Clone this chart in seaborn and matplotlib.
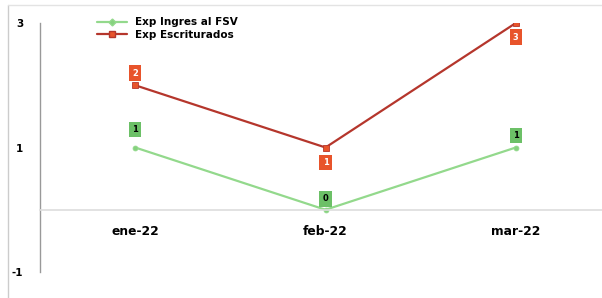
import pandas as pd
import matplotlib
matplotlib.use("Agg")
import matplotlib.pyplot as plt
from matplotlib.lines import Line2D
import seaborn as sns

meses = ["ene-22", "feb-22", "mar-22"]
exp_fsv = [1, 0, 1]
exp_escriturados = [2, 1, 3]
series = ["Exp Ingres al FSV", "Exp Escriturados"]

df = pd.DataFrame({
    "mes": meses * 2,
    "valor": exp_fsv + exp_escriturados,
    "serie": [series[0]] * 3 + [series[1]] * 3,
})
df["x"] = df["mes"].map({m: i for i, m in enumerate(meses)})

sns.set_style("white")
plt.rcParams["font.family"] = ["DejaVu Sans"]
plt.rcParams["font.weight"] = "bold"

line_col = {series[0]: "#93d98c", series[1]: "#b5362c"}
mark_col = {series[0]: "#86d27f", series[1]: "#e8542b"}
box_col = {series[0]: "#6cc067", series[1]: "#e8542b"}
txt_col = {series[0]: "black", series[1]: "white"}

fig = plt.figure(figsize=(6.02, 2.98), dpi=100)
ax = fig.add_axes([40 / 602, 26 / 298, 571 / 602, 249 / 298])

sns.lineplot(data=df, x="x", y="valor", hue="serie", palette=line_col,
             linewidth=1.6, legend=False, ax=ax)
for s, m, ms in [(series[0], "o", 3.5), (series[1], "s", 4.5)]:
    sub = df[df["serie"] == s]
    ax.plot(sub["x"], sub["valor"], linestyle="none", marker=m, markersize=ms,
            color=mark_col[s], markeredgecolor=line_col[s], markeredgewidth=0.6)

# etiquetas de datos
offsets = {series[0]: [18, 11, 12], series[1]: [12, -15, -14]}
for s, vals in [(series[0], exp_fsv), (series[1], exp_escriturados)]:
    for i, v in enumerate(vals):
        ax.annotate(str(v), (i, v), xytext=(0, offsets[s][i]), textcoords="offset pixels",
                    ha="center", va="center", fontsize=6, fontweight="bold",
                    color=txt_col[s],
                    bbox=dict(boxstyle="square,pad=0.4", fc=box_col[s], ec="none"))

ax.set_xlim(-0.5, 2.5)
ax.set_ylim(-1, 3)
ax.set_xlabel("")
ax.set_ylabel("")

ax.set_xticks([0.5, 1.5], minor=True)
ax.tick_params(axis="x", which="major", length=0, pad=11, labelsize=8.8, labelcolor="black")
ax.tick_params(axis="x", which="minor", length=3, color="#cccccc")
ax.tick_params(axis="y", length=3, color="#bbbbbb", pad=9, labelsize=7.5, labelcolor="black")
ax.set_yticks([-1, 1, 3])
ax.set_yticklabels(["-1", "1", "3"])
ax.set_xticks(range(len(meses)))
ax.set_xticklabels(meses)

for sp in ["top", "right"]:
    ax.spines[sp].set_visible(False)
ax.spines["left"].set_color("#999999")
ax.spines["left"].set_linewidth(1.0)
ax.spines["bottom"].set_position(("data", 0))
ax.spines["bottom"].set_color("#dddddd")
ax.spines["bottom"].set_linewidth(1.2)

handles = [
    Line2D([], [], color=line_col[series[0]], marker="D", markersize=3.5,
           markerfacecolor=mark_col[series[0]], linewidth=1.6),
    Line2D([], [], color=line_col[series[1]], marker="s", markersize=5,
           markerfacecolor=mark_col[series[1]], linewidth=1.6),
]
fig.legend(handles, series, loc="upper left", bbox_to_anchor=(88 / 602, 1 - 8 / 298),
           frameon=False, handlelength=2.8, labelspacing=0.25, labelcolor="black",
           prop={"weight": "bold", "size": 7.5})

# marco gris de la imagen
fig.add_artist(Line2D([8 / 602, 8 / 602], [0, 1 - 5 / 298], color="#cccccc", lw=1,
                      transform=fig.transFigure))
fig.add_artist(Line2D([8 / 602, 1], [1 - 5 / 298, 1 - 5 / 298], color="#e3e3e3", lw=1,
                      transform=fig.transFigure))

fig.savefig("out.png", dpi=100)
